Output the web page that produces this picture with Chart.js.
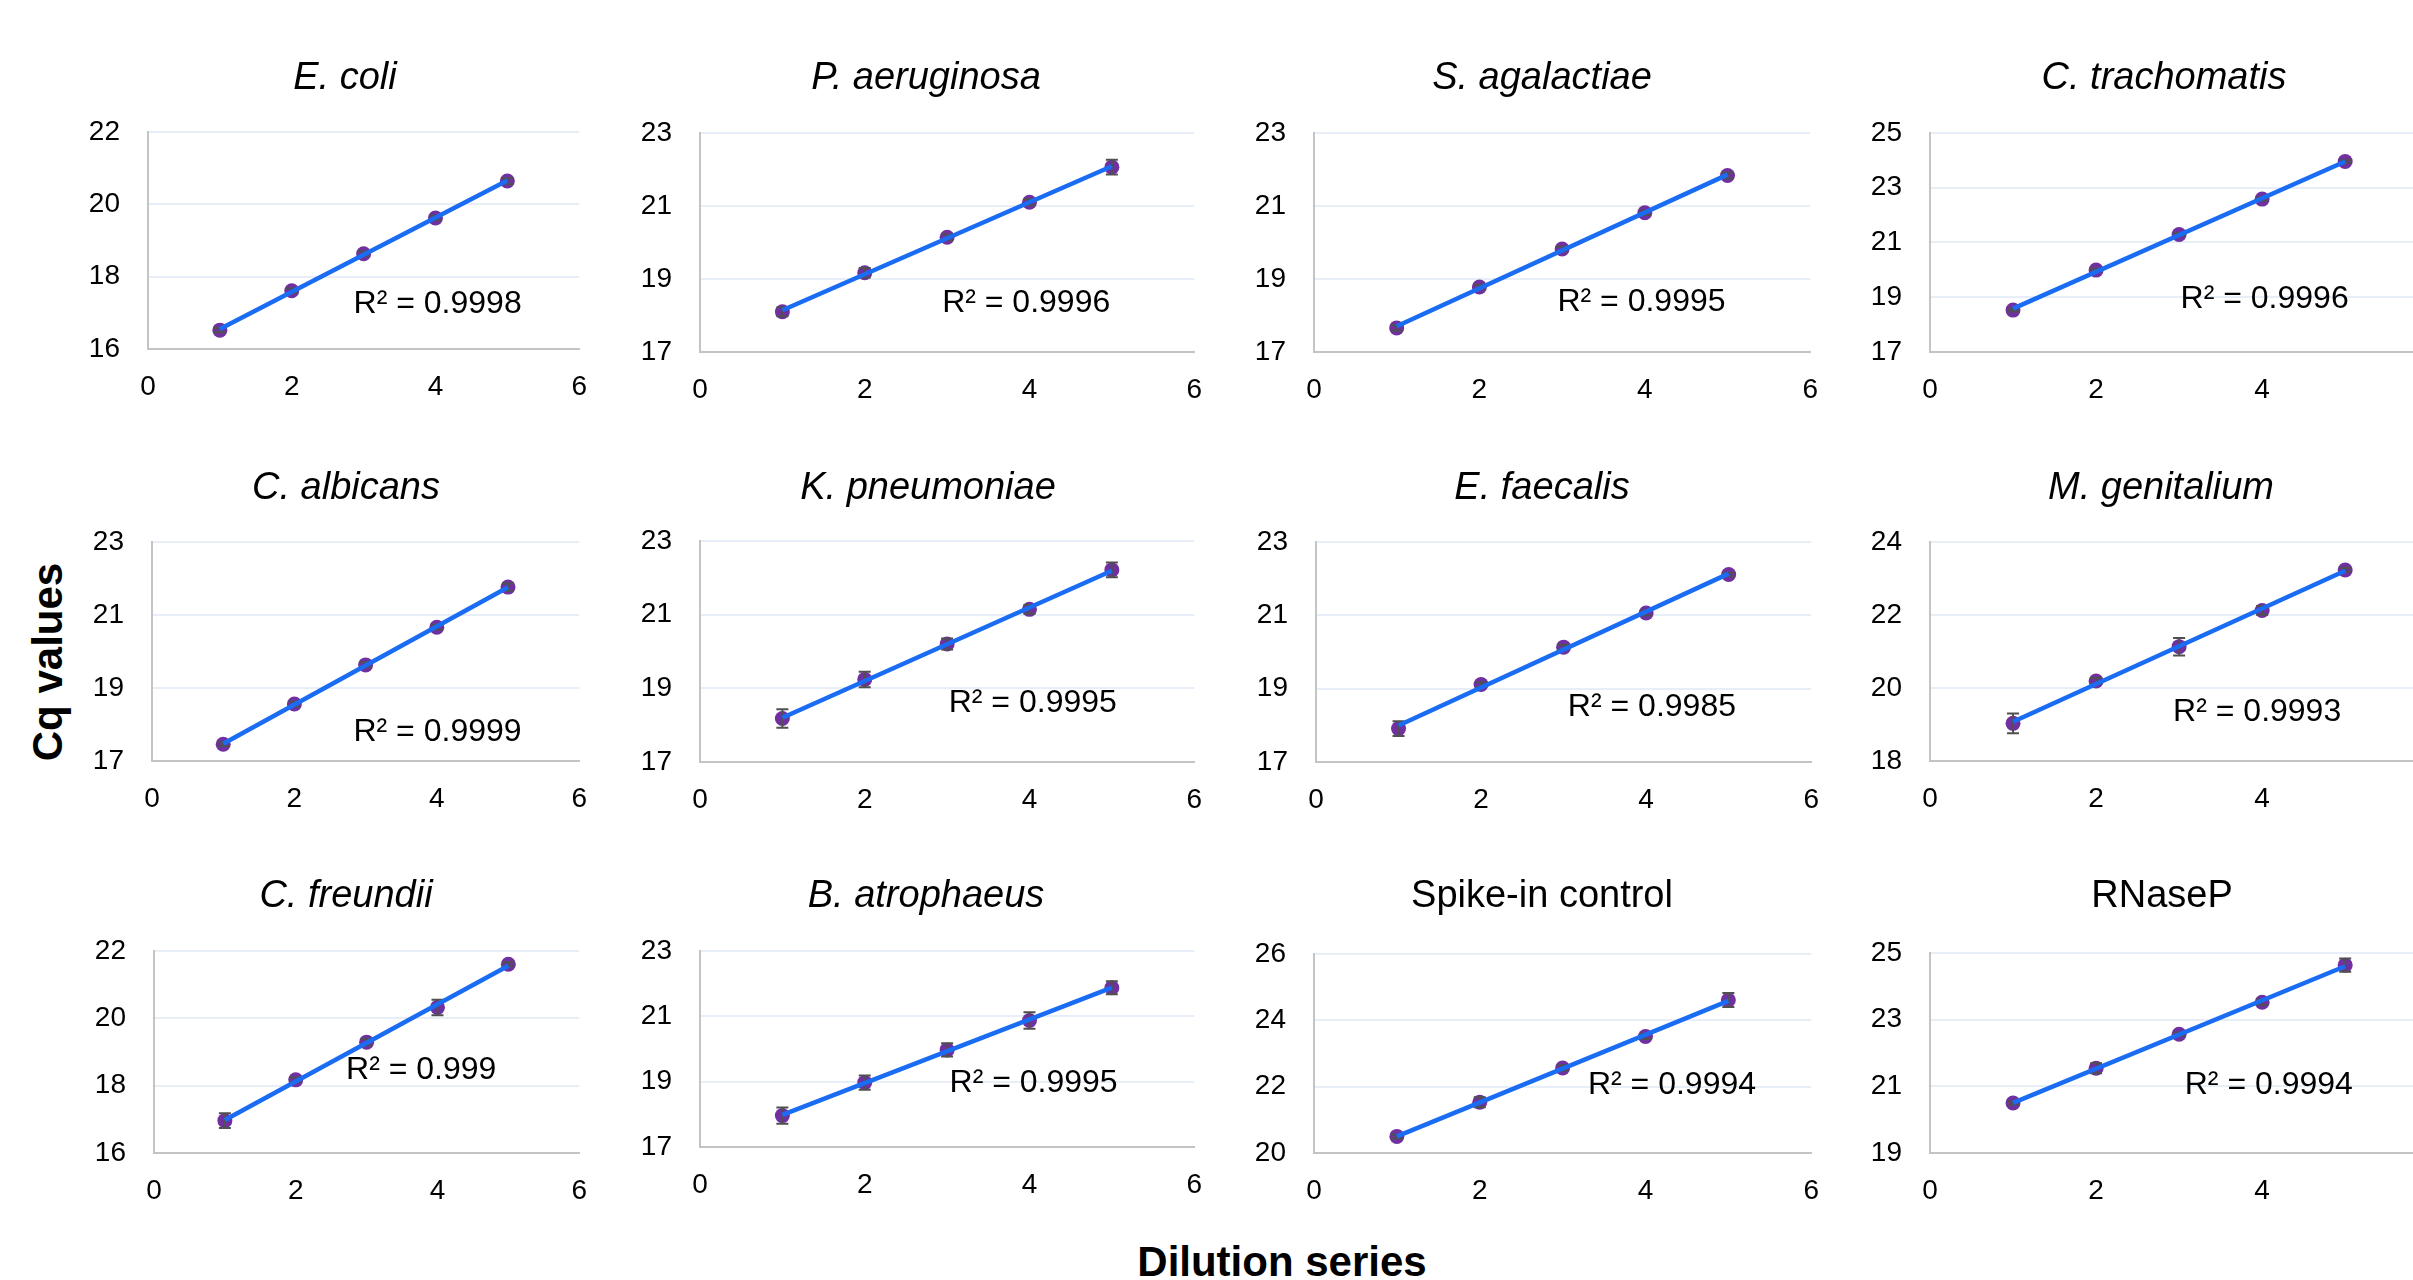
<!DOCTYPE html>
<html>
<head>
<meta charset="utf-8">
<script src="https://cdn.jsdelivr.net/npm/chart.js@4.4.1/dist/chart.umd.min.js"></script>
<style>
html, body { margin: 0; padding: 0; background: #fff; overflow: hidden; }
body { width: 2413px; height: 1280px; position: relative; font-family: "Liberation Sans", Arial, sans-serif; }
.title { position: absolute; font-size: 38px; line-height: 38px; color: #000; white-space: nowrap; transform: translate(-50%, -50%); }
.title.it { font-style: italic; }
.axis-title { position: absolute; font-weight: bold; font-size: 42px; line-height: 42px; color: #000; white-space: nowrap; }
</style>
</head>
<body>
<script>
// dilution steps (x values)
const dilution = [1, 2, 3, 4, 5];
const xTicks = { min: 0, max: 6, step: 2 };

const targets = ['E. coli', 'P. aeruginosa', 'S. agalactiae', 'C. trachomatis',
                 'C. albicans', 'K. pneumoniae', 'E. faecalis', 'M. genitalium',
                 'C. freundii', 'B. atrophaeus', 'Spike-in control', 'RNaseP'];
const italicName = [true, true, true, true, true, true, true, true, true, true, false, false];

// mean Cq per dilution
const cqEColi   = [16.52, 17.61, 18.63, 19.62, 20.64];
const cqPaer    = [18.10, 19.17, 20.14, 21.10, 22.06];
const cqSagal   = [17.66, 18.78, 19.82, 20.81, 21.83];
const cqCtrach  = [18.53, 19.99, 21.29, 22.58, 23.95];
const cqCalb    = [17.46, 18.56, 19.63, 20.66, 21.76];
const cqKpneu   = [18.18, 19.24, 20.20, 21.14, 22.21];
const cqEfaec   = [17.91, 19.11, 20.13, 21.06, 22.11];
const cqMgen    = [19.03, 20.19, 21.13, 22.12, 23.23];
const cqCfreu   = [16.96, 18.17, 19.29, 20.32, 21.60];
const cqBatro   = [17.96, 18.97, 19.97, 20.87, 21.87];
const cqSpike   = [20.50, 21.53, 22.56, 23.51, 24.61];
const cqRnaseP  = [20.50, 21.54, 22.56, 23.52, 24.63];

// standard deviation (error bars)
const sdEColi   = [0.06, 0.06, 0.06, 0.06, 0.08];
const sdPaer    = [0.12, 0.13, 0.08, 0.08, 0.20];
const sdSagal   = [0.08, 0.06, 0.06, 0.06, 0.08];
const sdCtrach  = [0.05, 0.05, 0.05, 0.06, 0.05];
const sdCalb    = [0.05, 0.07, 0.07, 0.07, 0.10];
const sdKpneu   = [0.25, 0.21, 0.15, 0.12, 0.20];
const sdEfaec   = [0.20, 0.06, 0.06, 0.07, 0.05];
const sdMgen    = [0.27, 0.08, 0.24, 0.12, 0.05];
const sdCfreu   = [0.22, 0.07, 0.10, 0.23, 0.06];
const sdBatro   = [0.25, 0.22, 0.20, 0.25, 0.20];
const sdSpike   = [0.06, 0.15, 0.08, 0.08, 0.21];
const sdRnaseP  = [0.05, 0.15, 0.05, 0.08, 0.20];

const rSquared = ['0.9998', '0.9996', '0.9995', '0.9996', '0.9999', '0.9995',
                  '0.9985', '0.9993', '0.999', '0.9995', '0.9994', '0.9994'];

// y axis ranges
const yAxisMin = [16, 17, 17, 17, 17, 17, 17, 18, 16, 17, 20, 19];
const yAxisMax = [22, 23, 23, 25, 23, 23, 23, 24, 22, 23, 26, 25];

const cqSeries = [cqEColi, cqPaer, cqSagal, cqCtrach, cqCalb, cqKpneu, cqEfaec, cqMgen, cqCfreu, cqBatro, cqSpike, cqRnaseP];
const sdSeries = [sdEColi, sdPaer, sdSagal, sdCtrach, sdCalb, sdKpneu, sdEfaec, sdMgen, sdCfreu, sdBatro, sdSpike, sdRnaseP];

// ---- layout (page pixels) ----
// plot area [left, top, right, bottom]
const plotRects = [
  [148, 132, 579, 349], [700, 133, 1194, 352], [1314, 133, 1810, 352], [1930, 133, 2428, 352],
  [152, 542, 579, 761], [700, 541, 1194, 762], [1316, 542, 1811, 762], [1930, 542, 2428, 761],
  [154, 951, 579, 1153], [700, 951, 1194, 1147], [1314, 954, 1811, 1153], [1930, 953, 2428, 1153]
];
const titleCenters = [
  [345, 76], [926, 76], [1542, 76], [2164, 76],
  [346, 486], [928, 486], [1542, 486], [2161, 486],
  [346, 894], [926, 894], [1542, 894], [2162, 894]
];
// where the R² text sits, in data units
const r2Anchor = [
  [4.03, 17.23], [3.96, 18.33], [3.96, 18.37], [4.03, 18.92],
  [4.01, 17.80], [4.04, 18.59], [4.07, 18.49], [3.94, 19.35],
  [3.77, 18.47], [4.05, 18.95], [4.32, 22.03], [4.08, 21.04]
];

const Y_W = 80, X_H = 70;
const FONT = '"Liberation Sans", Arial, sans-serif';

function linearFit(xs, ys) {
  const n = xs.length;
  const mx = xs.reduce((a, b) => a + b, 0) / n;
  const my = ys.reduce((a, b) => a + b, 0) / n;
  let sxy = 0, sxx = 0;
  xs.forEach((x, i) => { sxy += (x - mx) * (ys[i] - my); sxx += (x - mx) * (x - mx); });
  const slope = sxy / sxx;
  return { slope, icpt: my - slope * mx };
}

function panelPlugin(i) {
  return {
    id: 'panelExtras' + i,
    afterDatasetDraw(chart, args) {
      if (args.index !== 1) return;
      const { ctx, scales: { x, y } } = chart;
      ctx.save();
      ctx.strokeStyle = '#505050';
      ctx.lineWidth = 2;
      cqSeries[i].forEach((v, k) => {
        const px = x.getPixelForValue(dilution[k]);
        const lo = y.getPixelForValue(v - sdSeries[i][k]);
        const hi = y.getPixelForValue(v + sdSeries[i][k]);
        ctx.beginPath();
        ctx.moveTo(px, lo); ctx.lineTo(px, hi);
        ctx.moveTo(px - 6, lo); ctx.lineTo(px + 6, lo);
        ctx.moveTo(px - 6, hi); ctx.lineTo(px + 6, hi);
        ctx.stroke();
      });
      ctx.restore();
    },
    afterDraw(chart) {
      const { ctx, scales: { x, y } } = chart;
      ctx.save();
      ctx.font = '32px ' + FONT;
      ctx.fillStyle = '#000';
      ctx.textAlign = 'center';
      ctx.textBaseline = 'middle';
      ctx.fillText('R² = ' + rSquared[i], x.getPixelForValue(r2Anchor[i][0]), y.getPixelForValue(r2Anchor[i][1]));
      ctx.restore();
    }
  };
}

plotRects.forEach(([L, T, R, B], i) => {
  let w = R - L + Y_W + 30, h = B - T + X_H + 30;
  const cv = document.createElement('canvas');
  cv.width = w; cv.height = h;
  cv.style.cssText = `position:absolute;left:0px;top:0px;width:${w}px;height:${h}px`;
  document.body.appendChild(cv);

  const fit = linearFit(dilution, cqSeries[i]);
  const x0 = dilution[0], x1 = dilution[dilution.length - 1];

  const chart = new Chart(cv, {
    type: 'scatter',
    data: {
      datasets: [
        {
          label: 'trend',
          data: [{ x: x0, y: fit.icpt + fit.slope * x0 }, { x: x1, y: fit.icpt + fit.slope * x1 }],
          showLine: true,
          borderColor: '#1a6cf2',
          borderWidth: 4.5,
          pointRadius: 0
        },
        {
          label: targets[i],
          data: dilution.map((d, k) => ({ x: d, y: cqSeries[i][k] })),
          pointRadius: 7.5,
          pointBackgroundColor: '#7030a0',
          pointBorderColor: '#7030a0',
          pointBorderWidth: 0
        }
      ]
    },
    options: {
      responsive: false,
      maintainAspectRatio: false,
      animation: false,
      devicePixelRatio: 1,
      layout: { padding: 0 },
      plugins: { legend: { display: false }, tooltip: { enabled: false } },
      scales: {
        x: {
          type: 'linear',
          min: xTicks.min, max: xTicks.max,
          afterFit: s => { s.height = X_H; },
          ticks: { stepSize: xTicks.step, color: '#000', padding: 21, font: { family: FONT, size: 28 } },
          grid: { display: false, drawTicks: false },
          border: { display: true, color: '#c4c4c4', width: 2 }
        },
        y: {
          min: yAxisMin[i], max: yAxisMax[i],
          afterFit: s => { s.width = Y_W; },
          ticks: { stepSize: 2, color: '#000', padding: 28, font: { family: FONT, size: 28 } },
          grid: { color: '#e8eef8', lineWidth: 2, drawTicks: false },
          border: { display: true, color: '#c4c4c4', width: 2 }
        }
      }
    },
    plugins: [panelPlugin(i)]
  });

  // fit the canvas so the plot area lands on the wanted rectangle
  const ca = chart.chartArea;
  const padTop = ca.top, padRight = w - ca.right;
  const leftW = ca.left, bottomH = h - ca.bottom;
  w = Math.round(R - L + leftW + padRight);
  h = Math.round(B - T + padTop + bottomH);
  chart.resize(w, h);
  const ca2 = chart.chartArea;
  cv.style.left = (L - ca2.left) + 'px';
  cv.style.top = (T - ca2.top) + 'px';

  const t = document.createElement('div');
  t.className = 'title' + (italicName[i] ? ' it' : '');
  t.textContent = targets[i];
  t.style.left = titleCenters[i][0] + 'px';
  t.style.top = titleCenters[i][1] + 'px';
  document.body.appendChild(t);
});

const yTitle = document.createElement('div');
yTitle.className = 'axis-title';
yTitle.textContent = 'Cq values';
yTitle.style.cssText = 'left:48px;top:662px;transform:translate(-50%,-50%) rotate(-90deg)';
document.body.appendChild(yTitle);

const xTitle = document.createElement('div');
xTitle.className = 'axis-title';
xTitle.textContent = 'Dilution series';
xTitle.style.cssText = 'left:1282px;top:1262px;transform:translate(-50%,-50%)';
document.body.appendChild(xTitle);
</script>
</body>
</html>
